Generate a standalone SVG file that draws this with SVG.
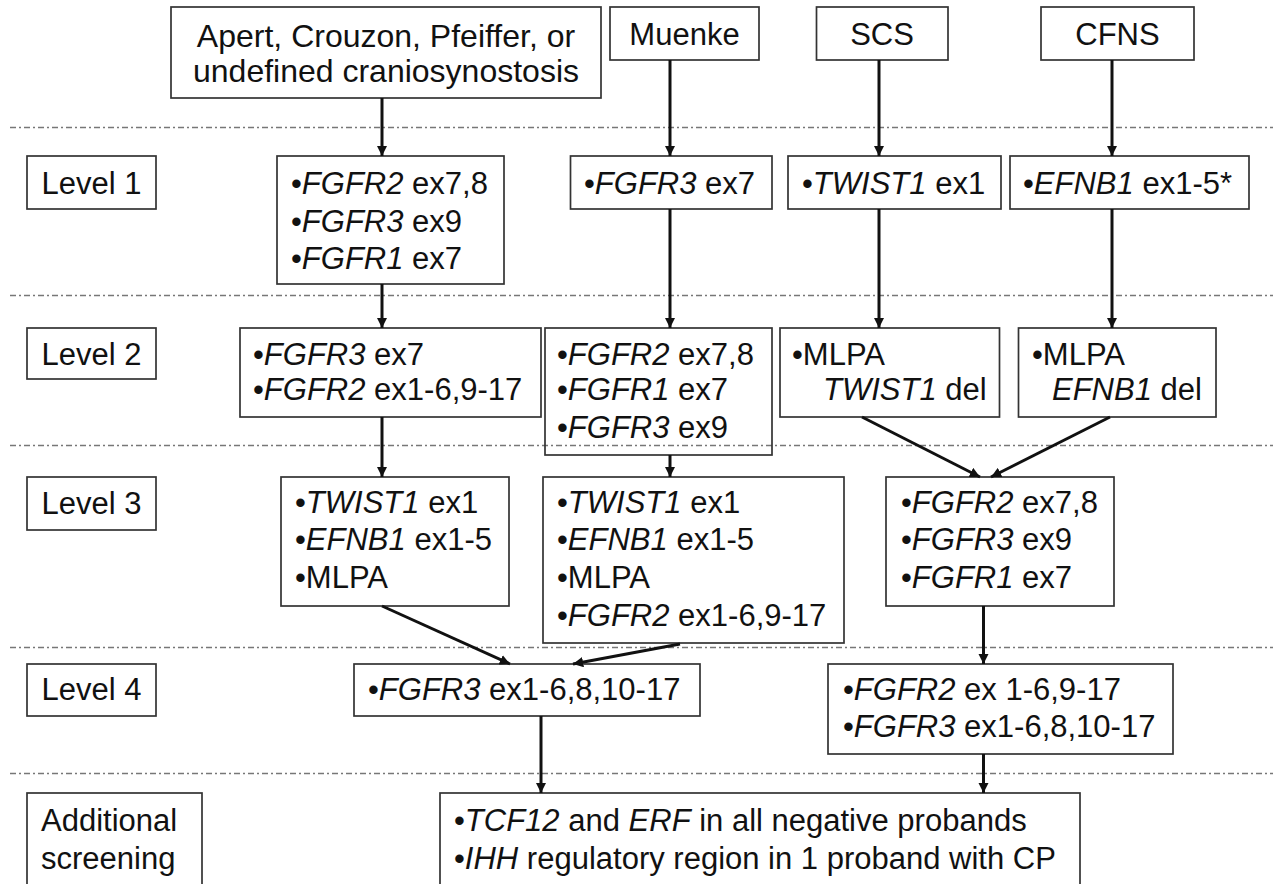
<svg xmlns="http://www.w3.org/2000/svg" width="1273" height="884" viewBox="0 0 1273 884">
  <defs>
    <marker id="arrow" viewBox="0 0 10 10" refX="10" refY="5" markerWidth="3.4" markerHeight="3.4" markerUnits="strokeWidth" orient="auto">
      <path d="M0,0 L10,5 L0,10 z" fill="#111"/>
    </marker>
    <style>
      .sep { stroke: #777; stroke-width: 1.3; stroke-dasharray: 6 3 2 3; fill: none; }
      .box { fill: none; stroke: #333; stroke-width: 1.7; }
      .edge { stroke: #111; stroke-width: 3; fill: none; marker-end: url(#arrow); }
      text { font-family: "Liberation Sans", Arial, sans-serif; font-size: 31px; fill: #111; }
      .c { text-anchor: middle; }
      .i { font-style: italic; }
      .big { font-size: 32px; }
    </style>
  </defs>
  <rect width="1273" height="884" fill="#fff"/>

  <!-- level separators -->
  <g id="separators">
    <line class="sep" x1="10" y1="127.5" x2="1273" y2="127.5"/>
    <line class="sep" x1="10" y1="295.5" x2="1273" y2="295.5"/>
    <line class="sep" x1="10" y1="445.5" x2="1273" y2="445.5"/>
    <line class="sep" x1="10" y1="647.5" x2="1273" y2="647.5"/>
    <line class="sep" x1="10" y1="773.5" x2="1273" y2="773.5"/>
  </g>

  <!-- level labels -->
  <g id="label-level1"><rect class="box" x="27" y="156" width="129" height="53"/><text class="c" x="91.5" y="194">Level 1</text></g>
  <g id="label-level2"><rect class="box" x="27" y="328" width="129" height="51"/><text class="c" x="91.5" y="365">Level 2</text></g>
  <g id="label-level3"><rect class="box" x="27" y="477" width="129" height="53"/><text class="c" x="91.5" y="514">Level 3</text></g>
  <g id="label-level4"><rect class="box" x="27" y="664" width="129" height="52"/><text class="c" x="91.5" y="700">Level 4</text></g>
  <g id="label-additional"><rect class="box" x="27" y="793" width="175" height="100"/><text x="41" y="831">Additional</text><text x="41" y="869">screening</text></g>

  <!-- phenotype boxes -->
  <g id="pheno-apert"><rect class="box" x="171" y="7" width="430" height="91"/><text class="c big" x="386" y="47">Apert, Crouzon, Pfeiffer, or</text><text class="c big" x="386" y="82">undefined craniosynostosis</text></g>
  <g id="pheno-muenke"><rect class="box" x="610" y="7" width="149" height="53"/><text class="c" x="684.5" y="45">Muenke</text></g>
  <g id="pheno-scs"><rect class="box" x="816.5" y="7" width="131.5" height="53"/><text class="c" x="882" y="45">SCS</text></g>
  <g id="pheno-cfns"><rect class="box" x="1041" y="7" width="153" height="53"/><text class="c" x="1117.5" y="45">CFNS</text></g>

  <!-- level 1 -->
  <g id="l1-acp"><rect class="box" x="277" y="156" width="227" height="128"/>
    <text x="291" y="194">•<tspan class="i">FGFR2</tspan> ex7,8</text>
    <text x="291" y="232">•<tspan class="i">FGFR3</tspan> ex9</text>
    <text x="291" y="269">•<tspan class="i">FGFR1</tspan> ex7</text></g>
  <g id="l1-muenke"><rect class="box" x="570.5" y="156" width="201.5" height="53"/><text x="584" y="194">•<tspan class="i">FGFR3</tspan> ex7</text></g>
  <g id="l1-scs"><rect class="box" x="788" y="156" width="213" height="53"/><text x="802" y="194">•<tspan class="i">TWIST1</tspan> ex1</text></g>
  <g id="l1-cfns"><rect class="box" x="1010" y="156" width="239" height="53"/><text x="1023" y="194">•<tspan class="i">EFNB1</tspan> ex1-5*</text></g>

  <!-- level 2 -->
  <g id="l2-acp"><rect class="box" x="240" y="328" width="301" height="89"/>
    <text x="253" y="365">•<tspan class="i">FGFR3</tspan> ex7</text>
    <text x="253" y="400">•<tspan class="i">FGFR2</tspan> ex1-6,9-17</text></g>
  <g id="l2-muenke"><rect class="box" x="545" y="328" width="227" height="127"/>
    <text x="557" y="365">•<tspan class="i">FGFR2</tspan> ex7,8</text>
    <text x="557" y="400">•<tspan class="i">FGFR1</tspan> ex7</text>
    <text x="557" y="438">•<tspan class="i">FGFR3</tspan> ex9</text></g>
  <g id="l2-scs"><rect class="box" x="780" y="328" width="219.5" height="89"/>
    <text x="792" y="365">•MLPA</text>
    <text x="823" y="400"><tspan class="i">TWIST1</tspan> del</text></g>
  <g id="l2-cfns"><rect class="box" x="1018.5" y="328" width="197.5" height="89"/>
    <text x="1032" y="365">•MLPA</text>
    <text x="1052" y="400"><tspan class="i">EFNB1</tspan> del</text></g>

  <!-- level 3 -->
  <g id="l3-acp"><rect class="box" x="281" y="477" width="228" height="129"/>
    <text x="295" y="513">•<tspan class="i">TWIST1</tspan> ex1</text>
    <text x="295" y="550">•<tspan class="i">EFNB1</tspan> ex1-5</text>
    <text x="295" y="588">•MLPA</text></g>
  <g id="l3-muenke"><rect class="box" x="543" y="477" width="301" height="166"/>
    <text x="557" y="513">•<tspan class="i">TWIST1</tspan> ex1</text>
    <text x="557" y="550">•<tspan class="i">EFNB1</tspan> ex1-5</text>
    <text x="557" y="588">•MLPA</text>
    <text x="557" y="626">•<tspan class="i">FGFR2</tspan> ex1-6,9-17</text></g>
  <g id="l3-scs-cfns"><rect class="box" x="886" y="477" width="228" height="129"/>
    <text x="901" y="513">•<tspan class="i">FGFR2</tspan> ex7,8</text>
    <text x="901" y="550">•<tspan class="i">FGFR3</tspan> ex9</text>
    <text x="901" y="588">•<tspan class="i">FGFR1</tspan> ex7</text></g>

  <!-- level 4 -->
  <g id="l4-left"><rect class="box" x="354" y="664" width="346" height="52"/>
    <text x="368" y="700">•<tspan class="i">FGFR3</tspan> ex1-6,8,10-17</text></g>
  <g id="l4-right"><rect class="box" x="828" y="664" width="345" height="90"/>
    <text x="843" y="700">•<tspan class="i">FGFR2</tspan> ex 1-6,9-17</text>
    <text x="843" y="737">•<tspan class="i">FGFR3</tspan> ex1-6,8,10-17</text></g>

  <!-- additional screening -->
  <g id="additional"><rect class="box" x="440" y="793" width="640" height="100"/>
    <text x="454" y="831">•<tspan class="i">TCF12</tspan> and <tspan class="i">ERF</tspan> in all negative probands</text>
    <text x="454" y="869">•<tspan class="i">IHH</tspan> regulatory region in 1 proband with CP</text></g>

  <!-- connectors -->
  <g id="connectors">
    <line class="edge" x1="382" y1="98" x2="382" y2="156"/>
    <line class="edge" x1="670" y1="60" x2="670" y2="156"/>
    <line class="edge" x1="879" y1="60" x2="879" y2="156"/>
    <line class="edge" x1="1112" y1="60" x2="1112" y2="156"/>

    <line class="edge" x1="382" y1="284" x2="382" y2="328"/>
    <line class="edge" x1="670" y1="209" x2="670" y2="328"/>
    <line class="edge" x1="879" y1="209" x2="879" y2="328"/>
    <line class="edge" x1="1112" y1="209" x2="1112" y2="328"/>

    <line class="edge" x1="382" y1="417" x2="382" y2="477"/>
    <line class="edge" x1="670" y1="455" x2="670" y2="477"/>
    <line class="edge" x1="862" y1="417" x2="980" y2="477"/>
    <line class="edge" x1="1110" y1="417" x2="991" y2="477"/>

    <line class="edge" x1="382" y1="606" x2="510" y2="664"/>
    <line class="edge" x1="680" y1="644" x2="573" y2="664"/>
    <line class="edge" x1="983.5" y1="606" x2="983.5" y2="664"/>

    <line class="edge" x1="541" y1="716" x2="541" y2="793"/>
    <line class="edge" x1="983.5" y1="754" x2="983.5" y2="793"/>
  </g>
</svg>
